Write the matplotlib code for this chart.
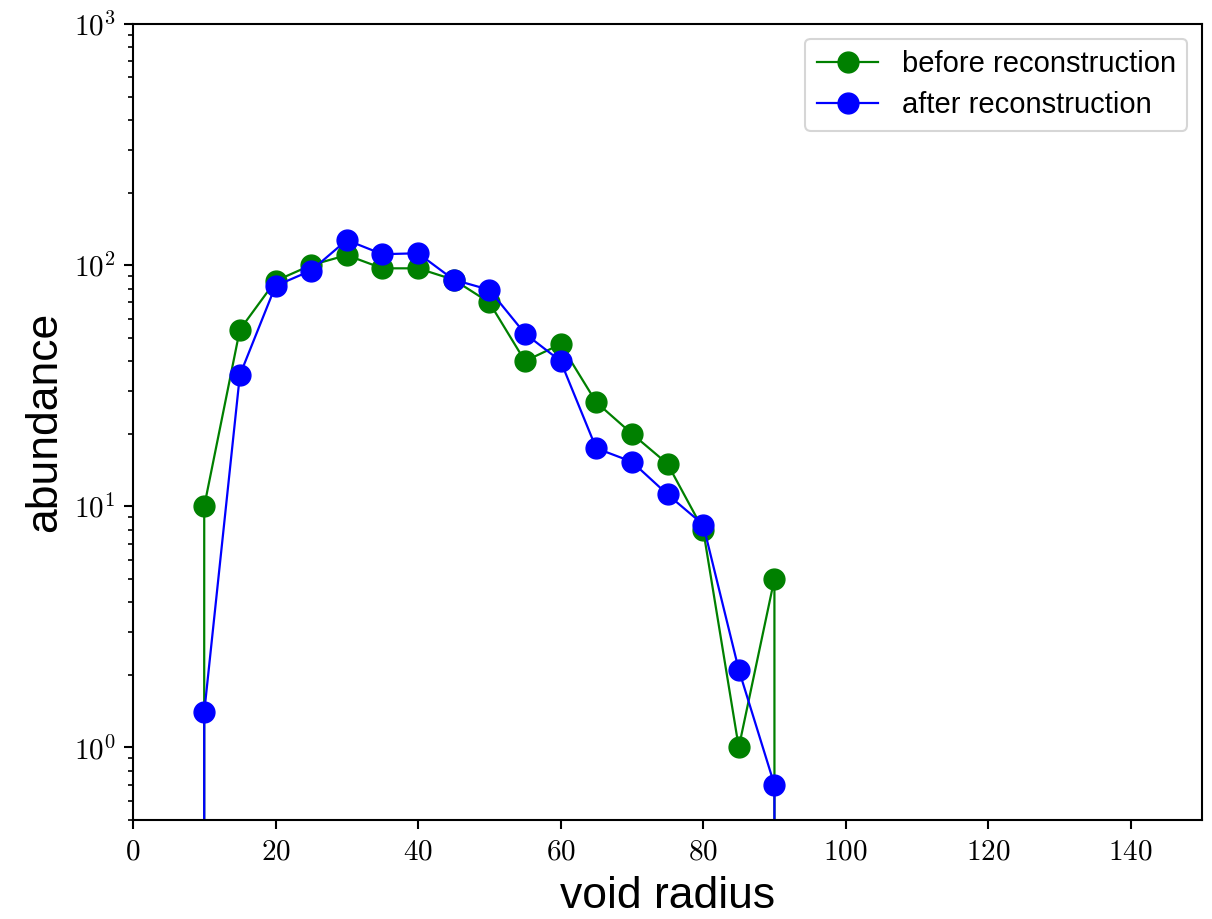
import numpy as np
import matplotlib
matplotlib.use('Agg')
import matplotlib.pyplot as plt
from matplotlib.ticker import FuncFormatter, LogLocator, NullFormatter

plt.rcParams['font.family'] = ['Liberation Sans', 'DejaVu Sans']
plt.rcParams['mathtext.fontset'] = 'cm'

# void radius bins and abundance (0 = empty bin, clipped on log axis)
radius = [5, 10, 15, 20, 25, 30, 35, 40, 45, 50, 55, 60, 65, 70, 75, 80, 85, 90, 95]
before = [0, 10, 54, 86, 100, 110, 97, 97, 87, 70, 40, 47, 27, 20, 15, 8, 1, 5, 0]
after = [0, 1.4, 35, 82, 95, 127, 111, 112, 87, 79, 52, 40, 17.4, 15.3, 11.2, 8.4, 2.1, 0.7, 0]

fig = plt.figure(figsize=(12.12, 9.19), dpi=100)
ax = fig.add_axes([0.1097, 0.1077, 0.8821, 0.8662])

ax.plot(radius, before, marker='o', color='green', lw=1.6, ms=15, label='before reconstruction')
ax.plot(radius, after, marker='o', color='blue', lw=1.6, ms=15, label='after reconstruction')

ax.set_yscale('log', nonpositive='clip')
ax.set_xlim(0, 150)
ax.set_ylim(0.5, 1000)

ax.xaxis.set_major_formatter(FuncFormatter(lambda v, p: r'$%d$' % v))
ax.yaxis.set_major_locator(LogLocator(base=10))
ax.yaxis.set_major_formatter(FuncFormatter(lambda v, p: r'$10^{%d}$' % round(np.log10(v))))
ax.yaxis.set_minor_locator(LogLocator(base=10, subs=np.arange(2, 10)))
ax.yaxis.set_minor_formatter(NullFormatter())

ax.tick_params(which='major', length=6.5, width=1.5, labelsize=21, pad=6)
ax.tick_params(which='minor', length=3.7, width=1.2)
for s in ax.spines.values():
    s.set_linewidth(1.5)

ax.set_xlabel('void radius', fontsize=32, labelpad=8)
ax.set_ylabel('abundance', fontsize=32, labelpad=6)

leg = ax.legend(loc='upper right', fontsize=21, borderpad=0.4, labelspacing=0.45,
                handlelength=2.1)
leg.get_frame().set_linewidth(1.5)

fig.savefig('out.png', dpi=100)
